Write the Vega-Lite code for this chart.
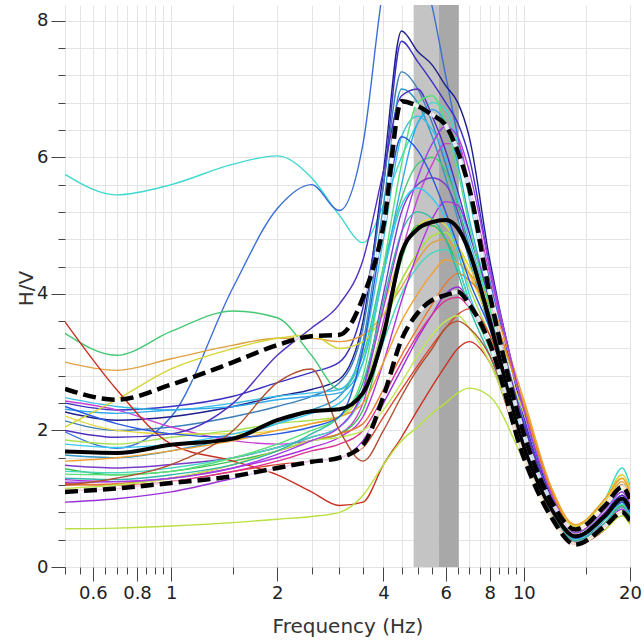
{
"$schema": "https://vega.github.io/schema/vega-lite/v6.json",
"width": 565, "height": 562,
"autosize": {"type": "none"},
"padding": {"left": 65, "top": 5, "right": 14, "bottom": 75},
"config": {"view": {"stroke": null}, "font": "DejaVu Sans"},
"datasets": {
"band": [{"f1": 4.87, "f2": 5.73, "k": "light"}, {"f1": 5.73, "f2": 6.54, "k": "dark"}],
"stats": [
{"s":"mean","f":0.5,"v":1.69},{"s":"mean","f":0.7,"v":1.67},{"s":"mean","f":1,"v":1.79},{"s":"mean","f":1.5,"v":1.88},{"s":"mean","f":2,"v":2.15},{"s":"mean","f":2.5,"v":2.28},{"s":"mean","f":3,"v":2.31},{"s":"mean","f":3.5,"v":2.55},{"s":"mean","f":4,"v":3.4},{"s":"mean","f":4.5,"v":4.6},{"s":"mean","f":5,"v":4.95},{"s":"mean","f":5.5,"v":5.05},{"s":"mean","f":6,"v":5.08},{"s":"mean","f":6.5,"v":4.96},{"s":"mean","f":7,"v":4.62},{"s":"mean","f":8,"v":3.6},{"s":"mean","f":10,"v":1.75},{"s":"mean","f":12,"v":0.85},{"s":"mean","f":14,"v":0.45},{"s":"mean","f":17,"v":0.75},{"s":"mean","f":19,"v":1.0},{"s":"mean","f":20,"v":0.85},
{"s":"upper","f":0.5,"v":2.61},{"s":"upper","f":0.7,"v":2.45},{"s":"upper","f":1,"v":2.67},{"s":"upper","f":1.5,"v":3.0},{"s":"upper","f":2,"v":3.25},{"s":"upper","f":2.5,"v":3.38},{"s":"upper","f":3,"v":3.4},{"s":"upper","f":3.5,"v":3.95},{"s":"upper","f":4,"v":5.0},{"s":"upper","f":4.5,"v":6.82},{"s":"upper","f":5,"v":6.75},{"s":"upper","f":5.5,"v":6.62},{"s":"upper","f":6,"v":6.47},{"s":"upper","f":6.5,"v":6.08},{"s":"upper","f":7,"v":5.55},{"s":"upper","f":8,"v":4.0},{"s":"upper","f":10,"v":1.95},{"s":"upper","f":12,"v":0.95},{"s":"upper","f":14,"v":0.55},{"s":"upper","f":17,"v":0.9},{"s":"upper","f":19,"v":1.17},{"s":"upper","f":20,"v":1.0},
{"s":"lower","f":0.5,"v":1.1},{"s":"lower","f":0.7,"v":1.15},{"s":"lower","f":1,"v":1.23},{"s":"lower","f":1.5,"v":1.33},{"s":"lower","f":2,"v":1.45},{"s":"lower","f":2.5,"v":1.54},{"s":"lower","f":3,"v":1.6},{"s":"lower","f":3.5,"v":1.79},{"s":"lower","f":4,"v":2.5},{"s":"lower","f":4.5,"v":3.33},{"s":"lower","f":5,"v":3.72},{"s":"lower","f":5.5,"v":3.91},{"s":"lower","f":6,"v":3.98},{"s":"lower","f":6.5,"v":4.03},{"s":"lower","f":7,"v":3.85},{"s":"lower","f":8,"v":3.28},{"s":"lower","f":10,"v":1.6},{"s":"lower","f":12,"v":0.72},{"s":"lower","f":14,"v":0.33},{"s":"lower","f":17,"v":0.6},{"s":"lower","f":19,"v":0.8},{"s":"lower","f":20,"v":0.68}
],
"curves": [
{"s":1,"f":0.5,"v":5.75},{"s":1,"f":0.7,"v":5.45},{"s":1,"f":1,"v":5.6},{"s":1,"f":1.5,"v":5.9},{"s":1,"f":2,"v":6.02},{"s":1,"f":2.5,"v":5.7},{"s":1,"f":3,"v":5.15},{"s":1,"f":3.5,"v":4.75},{"s":1,"f":4,"v":5.3},{"s":1,"f":4.5,"v":6.0},{"s":1,"f":5,"v":6.5},{"s":1,"f":5.5,"v":6.8},{"s":1,"f":6,"v":6.7},{"s":1,"f":6.5,"v":6.2},{"s":1,"f":7,"v":5.4},{"s":1,"f":8,"v":4.0},{"s":1,"f":10,"v":2.15},{"s":1,"f":12,"v":1.0},{"s":1,"f":14,"v":0.6},{"s":1,"f":17,"v":1.0},{"s":1,"f":19,"v":1.45},{"s":1,"f":20,"v":1.2},
{"s":2,"f":0.5,"v":1.98},{"s":2,"f":0.7,"v":1.74},{"s":2,"f":1,"v":2.2},{"s":2,"f":1.5,"v":4.1},{"s":2,"f":2,"v":5.25},{"s":2,"f":2.5,"v":5.6},{"s":2,"f":3,"v":5.22},{"s":2,"f":3.5,"v":6.2},{"s":2,"f":4,"v":8.5},{"s":2,"f":4.5,"v":9.5},{"s":2,"f":5,"v":9.0},{"s":2,"f":5.5,"v":8.2},{"s":2,"f":6,"v":7.2},{"s":2,"f":6.5,"v":6.3},{"s":2,"f":7,"v":5.5},{"s":2,"f":8,"v":4.2},{"s":2,"f":10,"v":2.3},{"s":2,"f":12,"v":1.05},{"s":2,"f":14,"v":0.5},{"s":2,"f":17,"v":0.85},{"s":2,"f":19,"v":1.2},{"s":2,"f":20,"v":1.0},
{"s":3,"f":0.5,"v":2.27},{"s":3,"f":0.7,"v":2.15},{"s":3,"f":1,"v":2.2},{"s":3,"f":1.5,"v":2.35},{"s":3,"f":2,"v":2.5},{"s":3,"f":2.5,"v":2.6},{"s":3,"f":3,"v":2.75},{"s":3,"f":3.5,"v":3.6},{"s":3,"f":4,"v":5.8},{"s":3,"f":4.5,"v":7.85},{"s":3,"f":5,"v":7.55},{"s":3,"f":5.5,"v":7.35},{"s":3,"f":6,"v":7.05},{"s":3,"f":6.5,"v":6.8},{"s":3,"f":7,"v":6.3},{"s":3,"f":8,"v":4.5},{"s":3,"f":10,"v":2.3},{"s":3,"f":12,"v":1.0},{"s":3,"f":14,"v":0.45},{"s":3,"f":17,"v":0.75},{"s":3,"f":19,"v":1.0},{"s":3,"f":20,"v":0.85},
{"s":4,"f":0.5,"v":2.4},{"s":4,"f":0.7,"v":2.3},{"s":4,"f":1,"v":2.35},{"s":4,"f":1.5,"v":2.5},{"s":4,"f":2,"v":2.7},{"s":4,"f":2.5,"v":2.85},{"s":4,"f":3,"v":3.0},{"s":4,"f":3.5,"v":3.8},{"s":4,"f":4,"v":5.6},{"s":4,"f":4.5,"v":7.7},{"s":4,"f":5,"v":7.4},{"s":4,"f":5.5,"v":7.1},{"s":4,"f":6,"v":6.8},{"s":4,"f":6.5,"v":6.5},{"s":4,"f":7,"v":6.0},{"s":4,"f":8,"v":4.4},{"s":4,"f":10,"v":2.2},{"s":4,"f":12,"v":0.95},{"s":4,"f":14,"v":0.4},{"s":4,"f":17,"v":0.7},{"s":4,"f":19,"v":0.95},{"s":4,"f":20,"v":0.8},
{"s":5,"f":0.5,"v":2.14},{"s":5,"f":0.7,"v":2.0},{"s":5,"f":1,"v":2.05},{"s":5,"f":1.5,"v":2.2},{"s":5,"f":2,"v":2.35},{"s":5,"f":2.5,"v":2.5},{"s":5,"f":3,"v":2.7},{"s":5,"f":3.5,"v":3.5},{"s":5,"f":4,"v":5.6},{"s":5,"f":4.5,"v":7.25},{"s":5,"f":5,"v":7.0},{"s":5,"f":5.5,"v":6.5},{"s":5,"f":6,"v":5.9},{"s":5,"f":6.5,"v":5.3},{"s":5,"f":7,"v":4.7},{"s":5,"f":8,"v":3.7},{"s":5,"f":10,"v":2.0},{"s":5,"f":12,"v":0.9},{"s":5,"f":14,"v":0.4},{"s":5,"f":17,"v":0.7},{"s":5,"f":19,"v":0.95},{"s":5,"f":20,"v":0.8},
{"s":6,"f":0.5,"v":1.64},{"s":6,"f":0.7,"v":1.6},{"s":6,"f":1,"v":1.7},{"s":6,"f":1.5,"v":1.9},{"s":6,"f":2,"v":2.1},{"s":6,"f":2.5,"v":2.3},{"s":6,"f":3,"v":2.5},{"s":6,"f":3.5,"v":3.3},{"s":6,"f":4,"v":5.3},{"s":6,"f":4.5,"v":7.0},{"s":6,"f":5,"v":6.8},{"s":6,"f":5.5,"v":6.3},{"s":6,"f":6,"v":5.7},{"s":6,"f":6.5,"v":5.1},{"s":6,"f":7,"v":4.5},{"s":6,"f":8,"v":3.5},{"s":6,"f":10,"v":1.95},{"s":6,"f":12,"v":0.88},{"s":6,"f":14,"v":0.4},{"s":6,"f":17,"v":0.7},{"s":6,"f":19,"v":0.92},{"s":6,"f":20,"v":0.78},
{"s":7,"f":0.5,"v":3.42},{"s":7,"f":0.7,"v":3.1},{"s":7,"f":1,"v":3.45},{"s":7,"f":1.5,"v":3.75},{"s":7,"f":2,"v":3.65},{"s":7,"f":2.5,"v":3.1},{"s":7,"f":3,"v":2.6},{"s":7,"f":3.5,"v":3.1},{"s":7,"f":4,"v":4.4},{"s":7,"f":4.5,"v":5.4},{"s":7,"f":5,"v":5.9},{"s":7,"f":5.5,"v":6.0},{"s":7,"f":6,"v":5.8},{"s":7,"f":6.5,"v":5.3},{"s":7,"f":7,"v":4.6},{"s":7,"f":8,"v":3.6},{"s":7,"f":10,"v":1.9},{"s":7,"f":12,"v":0.85},{"s":7,"f":14,"v":0.4},{"s":7,"f":17,"v":0.7},{"s":7,"f":19,"v":0.9},{"s":7,"f":20,"v":0.75},
{"s":8,"f":0.5,"v":3.0},{"s":8,"f":0.7,"v":2.88},{"s":8,"f":1,"v":3.05},{"s":8,"f":1.5,"v":3.25},{"s":8,"f":2,"v":3.35},{"s":8,"f":2.5,"v":3.35},{"s":8,"f":3,"v":3.3},{"s":8,"f":3.5,"v":3.4},{"s":8,"f":4,"v":3.7},{"s":8,"f":4.5,"v":4.1},{"s":8,"f":5,"v":4.5},{"s":8,"f":5.5,"v":4.75},{"s":8,"f":6,"v":4.8},{"s":8,"f":6.5,"v":4.6},{"s":8,"f":7,"v":4.3},{"s":8,"f":8,"v":3.7},{"s":8,"f":10,"v":2.4},{"s":8,"f":12,"v":1.1},{"s":8,"f":14,"v":0.6},{"s":8,"f":17,"v":0.95},{"s":8,"f":19,"v":1.25},{"s":8,"f":20,"v":1.05},
{"s":9,"f":0.5,"v":2.48},{"s":9,"f":0.7,"v":2.35},{"s":9,"f":1,"v":2.3},{"s":9,"f":1.5,"v":2.4},{"s":9,"f":2,"v":2.5},{"s":9,"f":2.5,"v":2.55},{"s":9,"f":3,"v":2.6},{"s":9,"f":3.5,"v":3.2},{"s":9,"f":4,"v":4.8},{"s":9,"f":4.5,"v":6.3},{"s":9,"f":5,"v":6.6},{"s":9,"f":5.5,"v":6.4},{"s":9,"f":6,"v":6.0},{"s":9,"f":6.5,"v":5.4},{"s":9,"f":7,"v":4.8},{"s":9,"f":8,"v":3.8},{"s":9,"f":10,"v":2.05},{"s":9,"f":12,"v":0.95},{"s":9,"f":14,"v":0.45},{"s":9,"f":17,"v":0.8},{"s":9,"f":19,"v":1.1},{"s":9,"f":20,"v":0.95},
{"s":10,"f":0.5,"v":2.43},{"s":10,"f":0.7,"v":2.3},{"s":10,"f":1,"v":2.05},{"s":10,"f":1.5,"v":1.85},{"s":10,"f":2,"v":1.8},{"s":10,"f":2.5,"v":1.85},{"s":10,"f":3,"v":1.95},{"s":10,"f":3.5,"v":2.4},{"s":10,"f":4,"v":3.6},{"s":10,"f":4.5,"v":4.6},{"s":10,"f":5,"v":5.4},{"s":10,"f":5.5,"v":5.9},{"s":10,"f":6,"v":6.2},{"s":10,"f":6.5,"v":6.2},{"s":10,"f":7,"v":5.6},{"s":10,"f":8,"v":4.3},{"s":10,"f":10,"v":2.3},{"s":10,"f":12,"v":1.05},{"s":10,"f":14,"v":0.5},{"s":10,"f":17,"v":0.85},{"s":10,"f":19,"v":1.1},{"s":10,"f":20,"v":0.9},
{"s":11,"f":0.5,"v":2.31},{"s":11,"f":0.7,"v":2.25},{"s":11,"f":1,"v":2.3},{"s":11,"f":1.5,"v":2.35},{"s":11,"f":2,"v":2.45},{"s":11,"f":2.5,"v":2.5},{"s":11,"f":3,"v":2.55},{"s":11,"f":3.5,"v":3.0},{"s":11,"f":4,"v":4.3},{"s":11,"f":4.5,"v":5.6},{"s":11,"f":5,"v":6.5},{"s":11,"f":5.5,"v":6.7},{"s":11,"f":6,"v":6.5},{"s":11,"f":6.5,"v":5.9},{"s":11,"f":7,"v":5.1},{"s":11,"f":8,"v":3.9},{"s":11,"f":10,"v":2.1},{"s":11,"f":12,"v":0.95},{"s":11,"f":14,"v":0.45},{"s":11,"f":17,"v":0.8},{"s":11,"f":19,"v":1.05},{"s":11,"f":20,"v":0.9},
{"s":12,"f":0.5,"v":2.21},{"s":12,"f":0.7,"v":2.0},{"s":12,"f":1,"v":1.95},{"s":12,"f":1.5,"v":1.95},{"s":12,"f":2,"v":2.0},{"s":12,"f":2.5,"v":2.1},{"s":12,"f":3,"v":2.2},{"s":12,"f":3.5,"v":2.7},{"s":12,"f":4,"v":3.8},{"s":12,"f":4.5,"v":4.6},{"s":12,"f":5,"v":5.0},{"s":12,"f":5.5,"v":5.1},{"s":12,"f":6,"v":5.0},{"s":12,"f":6.5,"v":4.7},{"s":12,"f":7,"v":4.3},{"s":12,"f":8,"v":3.6},{"s":12,"f":10,"v":2.25},{"s":12,"f":12,"v":1.1},{"s":12,"f":14,"v":0.6},{"s":12,"f":17,"v":0.95},{"s":12,"f":19,"v":1.3},{"s":12,"f":20,"v":1.1},
{"s":13,"f":0.5,"v":2.05},{"s":13,"f":0.7,"v":2.45},{"s":13,"f":1,"v":2.9},{"s":13,"f":1.5,"v":3.2},{"s":13,"f":2,"v":3.35},{"s":13,"f":2.5,"v":3.4},{"s":13,"f":3,"v":3.2},{"s":13,"f":3.5,"v":3.3},{"s":13,"f":4,"v":3.7},{"s":13,"f":4.5,"v":4.2},{"s":13,"f":5,"v":4.6},{"s":13,"f":5.5,"v":4.85},{"s":13,"f":6,"v":4.9},{"s":13,"f":6.5,"v":4.7},{"s":13,"f":7,"v":4.4},{"s":13,"f":8,"v":3.8},{"s":13,"f":10,"v":2.35},{"s":13,"f":12,"v":1.15},{"s":13,"f":14,"v":0.6},{"s":13,"f":17,"v":1.0},{"s":13,"f":19,"v":1.35},{"s":13,"f":20,"v":1.15},
{"s":14,"f":0.5,"v":1.49},{"s":14,"f":0.7,"v":1.45},{"s":14,"f":1,"v":1.5},{"s":14,"f":1.5,"v":1.6},{"s":14,"f":2,"v":1.75},{"s":14,"f":2.5,"v":1.9},{"s":14,"f":3,"v":2.05},{"s":14,"f":3.5,"v":2.6},{"s":14,"f":4,"v":4.0},{"s":14,"f":4.5,"v":5.2},{"s":14,"f":5,"v":5.6},{"s":14,"f":5.5,"v":5.7},{"s":14,"f":6,"v":5.6},{"s":14,"f":6.5,"v":5.2},{"s":14,"f":7,"v":4.6},{"s":14,"f":8,"v":3.7},{"s":14,"f":10,"v":2.05},{"s":14,"f":12,"v":0.9},{"s":14,"f":14,"v":0.4},{"s":14,"f":17,"v":0.7},{"s":14,"f":19,"v":0.95},{"s":14,"f":20,"v":0.8},
{"s":15,"f":0.5,"v":1.86},{"s":15,"f":0.7,"v":1.8},{"s":15,"f":1,"v":1.9},{"s":15,"f":1.5,"v":2.0},{"s":15,"f":2,"v":2.1},{"s":15,"f":2.5,"v":2.15},{"s":15,"f":3,"v":2.2},{"s":15,"f":3.5,"v":2.6},{"s":15,"f":4,"v":3.5},{"s":15,"f":4.5,"v":4.2},{"s":15,"f":5,"v":4.6},{"s":15,"f":5.5,"v":4.85},{"s":15,"f":6,"v":4.9},{"s":15,"f":6.5,"v":4.6},{"s":15,"f":7,"v":4.1},{"s":15,"f":8,"v":3.4},{"s":15,"f":10,"v":2.0},{"s":15,"f":12,"v":0.95},{"s":15,"f":14,"v":0.5},{"s":15,"f":17,"v":0.85},{"s":15,"f":19,"v":1.15},{"s":15,"f":20,"v":0.95},
{"s":16,"f":0.5,"v":1.44},{"s":16,"f":0.7,"v":1.35},{"s":16,"f":1,"v":1.4},{"s":16,"f":1.5,"v":1.55},{"s":16,"f":2,"v":1.7},{"s":16,"f":2.5,"v":1.85},{"s":16,"f":3,"v":1.95},{"s":16,"f":3.5,"v":2.3},{"s":16,"f":4,"v":3.4},{"s":16,"f":4.5,"v":4.5},{"s":16,"f":5,"v":5.0},{"s":16,"f":5.5,"v":5.0},{"s":16,"f":6,"v":4.8},{"s":16,"f":6.5,"v":4.4},{"s":16,"f":7,"v":3.9},{"s":16,"f":8,"v":3.2},{"s":16,"f":10,"v":1.85},{"s":16,"f":12,"v":0.85},{"s":16,"f":14,"v":0.4},{"s":16,"f":17,"v":0.7},{"s":16,"f":19,"v":0.9},{"s":16,"f":20,"v":0.75},
{"s":17,"f":0.5,"v":1.4},{"s":17,"f":0.7,"v":1.38},{"s":17,"f":1,"v":1.45},{"s":17,"f":1.5,"v":1.6},{"s":17,"f":2,"v":1.75},{"s":17,"f":2.5,"v":1.9},{"s":17,"f":3,"v":2.05},{"s":17,"f":3.5,"v":2.5},{"s":17,"f":4,"v":3.3},{"s":17,"f":4.5,"v":4.0},{"s":17,"f":5,"v":4.4},{"s":17,"f":5.5,"v":4.6},{"s":17,"f":6,"v":4.65},{"s":17,"f":6.5,"v":4.4},{"s":17,"f":7,"v":3.9},{"s":17,"f":8,"v":3.2},{"s":17,"f":10,"v":1.85},{"s":17,"f":12,"v":0.85},{"s":17,"f":14,"v":0.4},{"s":17,"f":17,"v":0.7},{"s":17,"f":19,"v":0.92},{"s":17,"f":20,"v":0.78},
{"s":18,"f":0.5,"v":1.28},{"s":18,"f":0.7,"v":1.25},{"s":18,"f":1,"v":1.3},{"s":18,"f":1.5,"v":1.45},{"s":18,"f":2,"v":1.6},{"s":18,"f":2.5,"v":1.75},{"s":18,"f":3,"v":1.9},{"s":18,"f":3.5,"v":2.2},{"s":18,"f":4,"v":3.0},{"s":18,"f":4.5,"v":3.9},{"s":18,"f":5,"v":4.6},{"s":18,"f":5.5,"v":5.1},{"s":18,"f":6,"v":5.35},{"s":18,"f":6.5,"v":5.3},{"s":18,"f":7,"v":4.9},{"s":18,"f":8,"v":3.9},{"s":18,"f":10,"v":2.1},{"s":18,"f":12,"v":0.95},{"s":18,"f":14,"v":0.45},{"s":18,"f":17,"v":0.8},{"s":18,"f":19,"v":1.05},{"s":18,"f":20,"v":0.9},
{"s":19,"f":0.5,"v":3.59},{"s":19,"f":0.7,"v":2.6},{"s":19,"f":1,"v":1.8},{"s":19,"f":1.5,"v":1.55},{"s":19,"f":2,"v":1.35},{"s":19,"f":2.5,"v":1.1},{"s":19,"f":3,"v":0.9},{"s":19,"f":3.5,"v":0.95},{"s":19,"f":4,"v":1.5},{"s":19,"f":4.5,"v":1.9},{"s":19,"f":5,"v":2.3},{"s":19,"f":5.5,"v":2.65},{"s":19,"f":6,"v":2.95},{"s":19,"f":6.5,"v":3.2},{"s":19,"f":7,"v":3.3},{"s":19,"f":8,"v":3.0},{"s":19,"f":10,"v":1.6},{"s":19,"f":12,"v":0.7},{"s":19,"f":14,"v":0.33},{"s":19,"f":17,"v":0.55},{"s":19,"f":19,"v":0.8},{"s":19,"f":20,"v":0.65},
{"s":20,"f":0.5,"v":0.56},{"s":20,"f":0.7,"v":0.57},{"s":20,"f":1,"v":0.6},{"s":20,"f":1.5,"v":0.65},{"s":20,"f":2,"v":0.7},{"s":20,"f":2.5,"v":0.74},{"s":20,"f":3,"v":0.8},{"s":20,"f":3.5,"v":1.05},{"s":20,"f":4,"v":1.5},{"s":20,"f":4.5,"v":1.85},{"s":20,"f":5,"v":2.05},{"s":20,"f":5.5,"v":2.25},{"s":20,"f":6,"v":2.4},{"s":20,"f":6.5,"v":2.55},{"s":20,"f":7,"v":2.62},{"s":20,"f":8,"v":2.5},{"s":20,"f":10,"v":1.55},{"s":20,"f":12,"v":0.7},{"s":20,"f":14,"v":0.35},{"s":20,"f":17,"v":0.55},{"s":20,"f":19,"v":0.75},{"s":20,"f":20,"v":0.62},
{"s":21,"f":0.5,"v":1.22},{"s":21,"f":0.7,"v":1.2},{"s":21,"f":1,"v":1.25},{"s":21,"f":1.5,"v":1.4},{"s":21,"f":2,"v":1.5},{"s":21,"f":2.5,"v":1.55},{"s":21,"f":3,"v":1.6},{"s":21,"f":3.5,"v":1.75},{"s":21,"f":4,"v":2.2},{"s":21,"f":4.5,"v":2.6},{"s":21,"f":5,"v":2.95},{"s":21,"f":5.5,"v":3.25},{"s":21,"f":6,"v":3.5},{"s":21,"f":6.5,"v":3.7},{"s":21,"f":7,"v":3.78},{"s":21,"f":8,"v":3.4},{"s":21,"f":10,"v":1.75},{"s":21,"f":12,"v":0.75},{"s":21,"f":14,"v":0.35},{"s":21,"f":17,"v":0.6},{"s":21,"f":19,"v":0.82},{"s":21,"f":20,"v":0.68},
{"s":22,"f":0.5,"v":1.55},{"s":22,"f":0.7,"v":1.6},{"s":22,"f":1,"v":1.7},{"s":22,"f":1.5,"v":1.85},{"s":22,"f":2,"v":2.0},{"s":22,"f":2.5,"v":2.1},{"s":22,"f":3,"v":2.2},{"s":22,"f":3.5,"v":2.4},{"s":22,"f":4,"v":3.0},{"s":22,"f":4.5,"v":3.6},{"s":22,"f":5,"v":4.0},{"s":22,"f":5.5,"v":4.3},{"s":22,"f":6,"v":4.5},{"s":22,"f":6.5,"v":4.45},{"s":22,"f":7,"v":4.3},{"s":22,"f":8,"v":3.9},{"s":22,"f":10,"v":2.45},{"s":22,"f":12,"v":1.15},{"s":22,"f":14,"v":0.62},{"s":22,"f":17,"v":1.0},{"s":22,"f":19,"v":1.3},{"s":22,"f":20,"v":1.1},
{"s":23,"f":0.5,"v":1.2},{"s":23,"f":0.7,"v":1.22},{"s":23,"f":1,"v":1.3},{"s":23,"f":1.5,"v":1.5},{"s":23,"f":2,"v":1.7},{"s":23,"f":2.5,"v":1.85},{"s":23,"f":3,"v":1.95},{"s":23,"f":3.5,"v":2.1},{"s":23,"f":4,"v":2.6},{"s":23,"f":4.5,"v":3.1},{"s":23,"f":5,"v":3.5},{"s":23,"f":5.5,"v":3.85},{"s":23,"f":6,"v":4.15},{"s":23,"f":6.5,"v":4.3},{"s":23,"f":7,"v":4.2},{"s":23,"f":8,"v":3.8},{"s":23,"f":10,"v":2.35},{"s":23,"f":12,"v":1.1},{"s":23,"f":14,"v":0.55},{"s":23,"f":17,"v":0.9},{"s":23,"f":19,"v":1.2},{"s":23,"f":20,"v":1.0},
{"s":24,"f":0.5,"v":0.95},{"s":24,"f":0.7,"v":1.0},{"s":24,"f":1,"v":1.1},{"s":24,"f":1.5,"v":1.3},{"s":24,"f":2,"v":1.45},{"s":24,"f":2.5,"v":1.55},{"s":24,"f":3,"v":1.6},{"s":24,"f":3.5,"v":1.85},{"s":24,"f":4,"v":2.4},{"s":24,"f":4.5,"v":2.9},{"s":24,"f":5,"v":3.35},{"s":24,"f":5.5,"v":3.7},{"s":24,"f":6,"v":4.0},{"s":24,"f":6.5,"v":4.1},{"s":24,"f":7,"v":3.9},{"s":24,"f":8,"v":3.3},{"s":24,"f":10,"v":1.8},{"s":24,"f":12,"v":0.8},{"s":24,"f":14,"v":0.35},{"s":24,"f":17,"v":0.62},{"s":24,"f":19,"v":0.85},{"s":24,"f":20,"v":0.7},
{"s":25,"f":0.5,"v":1.12},{"s":25,"f":0.7,"v":1.15},{"s":25,"f":1,"v":1.25},{"s":25,"f":1.5,"v":1.4},{"s":25,"f":2,"v":1.55},{"s":25,"f":2.5,"v":1.7},{"s":25,"f":3,"v":1.8},{"s":25,"f":3.5,"v":2.0},{"s":25,"f":4,"v":2.5},{"s":25,"f":4.5,"v":3.0},{"s":25,"f":5,"v":3.4},{"s":25,"f":5.5,"v":3.7},{"s":25,"f":6,"v":3.9},{"s":25,"f":6.5,"v":3.95},{"s":25,"f":7,"v":3.8},{"s":25,"f":8,"v":3.3},{"s":25,"f":10,"v":1.85},{"s":25,"f":12,"v":0.82},{"s":25,"f":14,"v":0.38},{"s":25,"f":17,"v":0.65},{"s":25,"f":19,"v":0.88},{"s":25,"f":20,"v":0.72},
{"s":26,"f":0.5,"v":1.15},{"s":26,"f":0.7,"v":1.2},{"s":26,"f":1,"v":1.3},{"s":26,"f":1.5,"v":1.5},{"s":26,"f":2,"v":1.7},{"s":26,"f":2.5,"v":1.85},{"s":26,"f":3,"v":1.9},{"s":26,"f":3.5,"v":2.0},{"s":26,"f":4,"v":2.3},{"s":26,"f":4.5,"v":2.7},{"s":26,"f":5,"v":3.1},{"s":26,"f":5.5,"v":3.4},{"s":26,"f":6,"v":3.6},{"s":26,"f":6.5,"v":3.68},{"s":26,"f":7,"v":3.5},{"s":26,"f":8,"v":3.0},{"s":26,"f":10,"v":1.7},{"s":26,"f":12,"v":0.75},{"s":26,"f":14,"v":0.35},{"s":26,"f":17,"v":0.6},{"s":26,"f":19,"v":0.82},{"s":26,"f":20,"v":0.68},
{"s":27,"f":0.5,"v":1.3},{"s":27,"f":0.7,"v":1.28},{"s":27,"f":1,"v":1.35},{"s":27,"f":1.5,"v":1.5},{"s":27,"f":2,"v":1.7},{"s":27,"f":2.5,"v":1.95},{"s":27,"f":3,"v":2.2},{"s":27,"f":3.5,"v":2.7},{"s":27,"f":4,"v":3.9},{"s":27,"f":4.5,"v":4.9},{"s":27,"f":5,"v":5.2},{"s":27,"f":5.5,"v":5.1},{"s":27,"f":6,"v":4.8},{"s":27,"f":6.5,"v":4.3},{"s":27,"f":7,"v":3.8},{"s":27,"f":8,"v":3.1},{"s":27,"f":10,"v":1.8},{"s":27,"f":12,"v":0.82},{"s":27,"f":14,"v":0.38},{"s":27,"f":17,"v":0.65},{"s":27,"f":19,"v":0.88},{"s":27,"f":20,"v":0.72},
{"s":28,"f":0.5,"v":2.0},{"s":28,"f":0.7,"v":1.9},{"s":28,"f":1,"v":1.95},{"s":28,"f":1.5,"v":2.4},{"s":28,"f":2,"v":3.1},{"s":28,"f":2.5,"v":3.5},{"s":28,"f":3,"v":3.85},{"s":28,"f":3.5,"v":4.5},{"s":28,"f":4,"v":5.8},{"s":28,"f":4.5,"v":6.9},{"s":28,"f":5,"v":7.0},{"s":28,"f":5.5,"v":6.6},{"s":28,"f":6,"v":6.1},{"s":28,"f":6.5,"v":5.5},{"s":28,"f":7,"v":4.9},{"s":28,"f":8,"v":3.9},{"s":28,"f":10,"v":2.1},{"s":28,"f":12,"v":0.95},{"s":28,"f":14,"v":0.45},{"s":28,"f":17,"v":0.78},{"s":28,"f":19,"v":1.05},{"s":28,"f":20,"v":0.9},
{"s":29,"f":0.5,"v":1.24},{"s":29,"f":0.7,"v":1.25},{"s":29,"f":1,"v":1.3},{"s":29,"f":1.5,"v":1.45},{"s":29,"f":2,"v":1.65},{"s":29,"f":2.5,"v":1.85},{"s":29,"f":3,"v":2.05},{"s":29,"f":3.5,"v":2.6},{"s":29,"f":4,"v":3.8},{"s":29,"f":4.5,"v":4.9},{"s":29,"f":5,"v":5.7},{"s":29,"f":5.5,"v":6.2},{"s":29,"f":6,"v":6.45},{"s":29,"f":6.5,"v":6.3},{"s":29,"f":7,"v":5.8},{"s":29,"f":8,"v":4.4},{"s":29,"f":10,"v":2.3},{"s":29,"f":12,"v":1.05},{"s":29,"f":14,"v":0.5},{"s":29,"f":17,"v":0.85},{"s":29,"f":19,"v":1.1},{"s":29,"f":20,"v":0.92},
{"s":30,"f":0.5,"v":1.36},{"s":30,"f":0.7,"v":1.35},{"s":30,"f":1,"v":1.4},{"s":30,"f":1.5,"v":1.6},{"s":30,"f":2,"v":1.8},{"s":30,"f":2.5,"v":2.0},{"s":30,"f":3,"v":2.2},{"s":30,"f":3.5,"v":2.8},{"s":30,"f":4,"v":4.4},{"s":30,"f":4.5,"v":5.9},{"s":30,"f":5,"v":6.8},{"s":30,"f":5.5,"v":6.9},{"s":30,"f":6,"v":6.5},{"s":30,"f":6.5,"v":5.8},{"s":30,"f":7,"v":5.0},{"s":30,"f":8,"v":3.8},{"s":30,"f":10,"v":2.0},{"s":30,"f":12,"v":0.9},{"s":30,"f":14,"v":0.42},{"s":30,"f":17,"v":0.75},{"s":30,"f":19,"v":1.0},{"s":30,"f":20,"v":0.85},
{"s":31,"f":0.5,"v":1.8},{"s":31,"f":0.7,"v":1.75},{"s":31,"f":1,"v":1.8},{"s":31,"f":1.5,"v":1.95},{"s":31,"f":2,"v":2.1},{"s":31,"f":2.5,"v":2.25},{"s":31,"f":3,"v":2.4},{"s":31,"f":3.5,"v":3.0},{"s":31,"f":4,"v":4.3},{"s":31,"f":4.5,"v":5.3},{"s":31,"f":5,"v":5.55},{"s":31,"f":5.5,"v":5.4},{"s":31,"f":6,"v":5.1},{"s":31,"f":6.5,"v":4.6},{"s":31,"f":7,"v":4.0},{"s":31,"f":8,"v":3.3},{"s":31,"f":10,"v":1.9},{"s":31,"f":12,"v":0.88},{"s":31,"f":14,"v":0.42},{"s":31,"f":17,"v":0.72},{"s":31,"f":19,"v":0.95},{"s":31,"f":20,"v":0.8},
{"s":32,"f":0.5,"v":2.35},{"s":32,"f":0.7,"v":2.1},{"s":32,"f":1,"v":1.95},{"s":32,"f":1.5,"v":1.9},{"s":32,"f":2,"v":1.95},{"s":32,"f":2.5,"v":2.05},{"s":32,"f":3,"v":2.2},{"s":32,"f":3.5,"v":3.2},{"s":32,"f":4,"v":5.0},{"s":32,"f":4.5,"v":6.3},{"s":32,"f":5,"v":6.1},{"s":32,"f":5.5,"v":5.7},{"s":32,"f":6,"v":5.2},{"s":32,"f":6.5,"v":4.7},{"s":32,"f":7,"v":4.2},{"s":32,"f":8,"v":3.5},{"s":32,"f":10,"v":1.95},{"s":32,"f":12,"v":0.9},{"s":32,"f":14,"v":0.42},{"s":32,"f":17,"v":0.72},{"s":32,"f":19,"v":0.95},{"s":32,"f":20,"v":0.8},
{"s":33,"f":0.5,"v":1.2},{"s":33,"f":0.7,"v":1.3},{"s":33,"f":1,"v":1.5},{"s":33,"f":1.5,"v":2.0},{"s":33,"f":2,"v":2.7},{"s":33,"f":2.5,"v":2.9},{"s":33,"f":3,"v":2.0},{"s":33,"f":3.5,"v":1.55},{"s":33,"f":4,"v":2.0},{"s":33,"f":4.5,"v":2.5},{"s":33,"f":5,"v":2.9},{"s":33,"f":5.5,"v":3.2},{"s":33,"f":6,"v":3.5},{"s":33,"f":6.5,"v":3.6},{"s":33,"f":7,"v":3.5},{"s":33,"f":8,"v":3.1},{"s":33,"f":10,"v":1.7},{"s":33,"f":12,"v":0.75},{"s":33,"f":14,"v":0.35},{"s":33,"f":17,"v":0.6},{"s":33,"f":19,"v":0.8},{"s":33,"f":20,"v":0.66}
]
},
"resolve": {"scale": {"color": "independent"}},
"layer": [
{"data": {"name": "band"}, "mark": {"type": "rect"},
 "encoding": {
  "x": {"field": "f1", "type": "quantitative", "scale": {"type": "log", "domain": [0.5, 20], "nice": false},
   "axis": {"title": "Frequency (Hz)", "tickCount": 60, "values": [0.5,0.55,0.6,0.65,0.7,0.75,0.8,0.85,0.9,0.95,1,1.5,2,2.5,3,3.5,4,4.5,5,5.5,6,6.5,7,7.5,8,8.5,9,9.5,10,15,20],
    "labelExpr": "indexof([0.6,0.8,1,2,4,6,8,10,20], datum.value) >= 0 ? '' + datum.value : ''",
    "tickSize": {"condition": {"test": "indexof([0.6,0.8,1,2,4,6,8,10,20], datum.value) >= 0", "value": 14}, "value": 7},
    "domain": false, "grid": true, "gridColor": "#e4e4e4", "tickColor": "#444", "labelColor": "#222", "labelFontSize": 18, "labelPadding": 3, "labelOverlap": false, "labelFlush": false, "labelBound": false,
    "titleFontSize": 20, "titleFontWeight": "normal", "titleColor": "#333", "titleY": 49, "titleBaseline": "top"}},
  "x2": {"field": "f2"},
  "color": {"field": "k", "type": "nominal", "scale": {"domain": ["light", "dark"], "range": ["#c4c4c4", "#a8a8a8"]}, "legend": null}
 }},
{"data": {"name": "curves"}, "mark": {"type": "line", "interpolate": "monotone", "strokeWidth": 1.4, "clip": true},
 "encoding": {
  "x": {"field": "f", "type": "quantitative", "title": "Frequency (Hz)"},
  "y": {"field": "v", "type": "quantitative", "scale": {"domain": [0, 8.23], "nice": false},
   "axis": {"title": "H/V", "tickCount": 60, "values": [0,0.4,0.8,1.2,1.6,2,2.4,2.8,3.2,3.6,4,4.4,4.8,5.2,5.6,6,6.4,6.8,7.2,7.6,8],
    "labelExpr": "datum.value % 2 === 0 ? '' + datum.value : ''",
    "tickSize": {"condition": {"test": "datum.value % 2 === 0", "value": 14}, "value": 7},
    "domain": false, "grid": true, "gridColor": "#e4e4e4", "tickColor": "#444", "labelColor": "#222", "labelFontSize": 18, "labelPadding": 3, "labelOverlap": false, "labelBound": false, "labelFlush": false,
    "titleFontSize": 20, "titleFontWeight": "normal", "titleColor": "#333", "titleX": -29, "titleY": 283}},
  "color": {"field": "s", "type": "nominal", "legend": null,
   "scale": {"domain": [1,2,3,4,5,6,7,8,9,10,11,12,13,14,15,16,17,18,19,20,21,22,23,24,25,26,27,28,29,30,31,32,33],
    "range": ["#3fd9d0","#3b6fd6","#1e1e8e","#3a2fc2","#3c7eb8","#2f95c4","#44c874","#e0a040","#3cc0e6","#c844d6","#2fa8ec","#e6d63e","#d4d432","#7a3cc8","#a8e050","#38c050","#48d8c0","#b030e0","#c83020","#b8e040","#d84830","#f0a030","#e87a30","#9a30d8","#e03090","#c0e850","#30b8a8","#5030c0","#a040e8","#58e078","#38c8f0","#2858e0","#b05030"]}}
 }},
{"data": {"name": "stats"}, "transform": [{"filter": "datum.s === 'mean'"}],
 "mark": {"type": "line", "interpolate": "monotone", "strokeWidth": 4, "color": "#000", "clip": true},
 "encoding": {"x": {"field": "f", "type": "quantitative", "title": "Frequency (Hz)"}, "y": {"field": "v", "type": "quantitative", "title": "H/V"}}},
{"data": {"name": "stats"}, "transform": [{"filter": "datum.s !== 'mean'"}],
 "mark": {"type": "line", "interpolate": "monotone", "strokeWidth": 4, "color": "#fff", "opacity": 0.75, "clip": true},
 "encoding": {"x": {"field": "f", "type": "quantitative", "title": "Frequency (Hz)"}, "y": {"field": "v", "type": "quantitative", "title": "H/V"}, "detail": {"field": "s"}}},
{"data": {"name": "stats"}, "transform": [{"filter": "datum.s !== 'mean'"}],
 "mark": {"type": "line", "interpolate": "monotone", "strokeWidth": 4.5, "color": "#000", "strokeDash": [13, 6], "clip": true},
 "encoding": {"x": {"field": "f", "type": "quantitative", "title": "Frequency (Hz)"}, "y": {"field": "v", "type": "quantitative", "title": "H/V"}, "detail": {"field": "s"}}}
]
}
